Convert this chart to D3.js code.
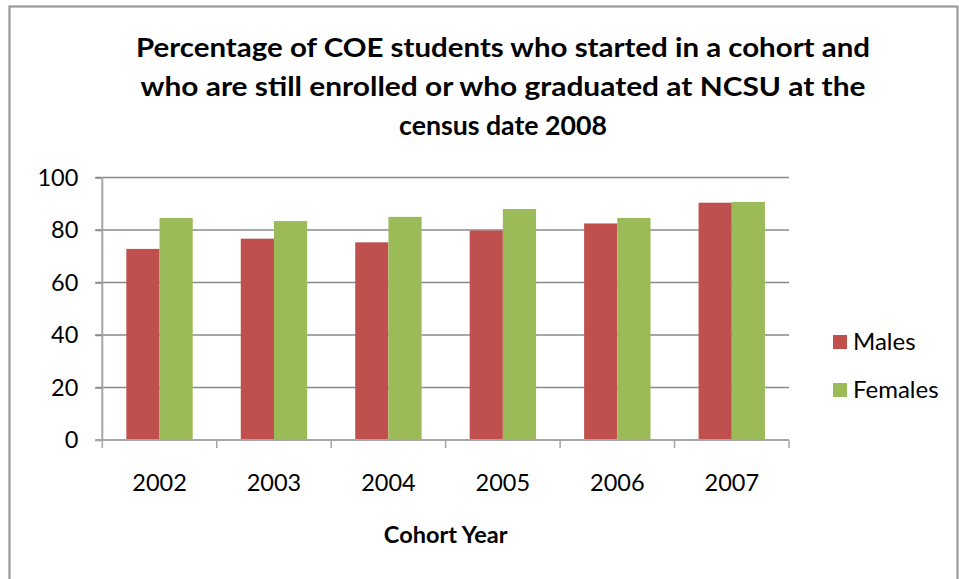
<!DOCTYPE html>
<html>
<head>
<meta charset="utf-8">
<script src="https://cdn.jsdelivr.net/npm/d3@7/dist/d3.min.js"></script>
<style>
  html, body { margin: 0; padding: 0; background: #fff; }
  svg { display: block; font-family: Lato, "Open Sans", sans-serif; }
</style>
</head>
<body>
<div id="chart"></div>
<script>
// Chart values
var years = ["2002", "2003", "2004", "2005", "2006", "2007"];
var seriesNames = ["Males", "Females"];
var males = [72.8, 76.7, 75.3, 79.8, 82.5, 90.4];
var females = [84.6, 83.4, 85.0, 88.0, 84.6, 90.7];
var yTicks = [0, 20, 40, 60, 80, 100];
var titleLines = [
  "Percentage of COE students who started in a cohort and",
  "who are still enrolled or who graduated at NCSU at the",
  "census date 2008"
];
// rendered widths of the title lines in the reference (Calibri is wider than Lato here)
var titleWidths = [734, 725, 208];
var xTitle = "Cohort Year";

var colors = {Males: "#c0504d", Females: "#9bbb59"};

var W = 959, H = 579;
var margin = {top: 177.5, right: 170, bottom: 139, left: 102.3};
var plotW = 789 - margin.left;
var plotH = 440 - margin.top;

var svg = d3.select("#chart").append("svg")
    .attr("width", W)
    .attr("height", H);

// outer frame of the chart object (bottom runs off the page)
svg.append("rect")
    .attr("x", 9.5).attr("y", 6.5)
    .attr("width", 948).attr("height", 620)
    .attr("fill", "#fff")
    .attr("stroke", "#999")
    .attr("stroke-width", 2.2);

// Title
svg.append("g")
    .attr("class", "title")
  .selectAll("text")
    .data(titleLines)
    .enter().append("text")
    .attr("x", 503)
    .attr("y", function(d, i) { return 57.3 + i * 38.7; })
    .attr("text-anchor", "middle")
    .attr("font-size", 26)
    .attr("font-weight", "bold")
    .attr("fill", "#000")
    .attr("textLength", function(d, i) { return titleWidths[i]; })
    .attr("lengthAdjust", "spacingAndGlyphs")
    .text(function(d) { return d; });

var g = svg.append("g")
    .attr("transform", "translate(" + margin.left + "," + margin.top + ")");

var padIn = 0.42;
var x = d3.scaleBand().domain(years).range([0, plotW]).paddingInner(padIn).paddingOuter(padIn / 2);
var xs = d3.scaleBand().domain(seriesNames).range([0, x.bandwidth()]);
var y = d3.scaleLinear().domain([0, 100]).range([plotH, 0]);

// Gridlines (with little tick stubs to the left of the axis)
g.append("g")
    .attr("class", "grid")
  .selectAll("line")
    .data(yTicks.filter(function(t) { return t > 0; }))
    .enter().append("line")
    .attr("x1", -7).attr("x2", plotW)
    .attr("y1", function(d) { return y(d); })
    .attr("y2", function(d) { return y(d); })
    .attr("stroke", "#8a8a8a")
    .attr("stroke-width", 1.5);

// Y axis
var yAxis = g.append("g")
    .attr("class", "axis axis-y")
    .call(d3.axisLeft(y).tickValues(yTicks).tickSize(7).tickPadding(17));
yAxis.select(".domain").remove();
yAxis.selectAll(".tick line").attr("stroke", "#8a8a8a").attr("stroke-width", 1.5);
yAxis.selectAll("text")
    .attr("font-family", "Lato, 'Open Sans', sans-serif")
    .attr("font-size", 23.5)
    .attr("fill", "#000");
g.append("line")
    .attr("x1", 0).attr("x2", 0)
    .attr("y1", 0).attr("y2", plotH)
    .attr("stroke", "#a6a6a6")
    .attr("stroke-width", 2);

// Bars
var rows = years.map(function(yr, i) {
  return {year: yr, values: [{name: "Males", value: males[i]}, {name: "Females", value: females[i]}]};
});

var group = g.selectAll(".cat")
    .data(rows)
    .enter().append("g")
    .attr("class", "cat")
    .attr("transform", function(d) { return "translate(" + x(d.year) + ",0)"; });

group.selectAll("rect")
    .data(function(d) { return d.values; })
    .enter().append("rect")
    .attr("x", function(d) { return xs(d.name); })
    .attr("y", function(d) { return y(d.value); })
    .attr("width", xs.bandwidth())
    .attr("height", function(d) { return plotH - y(d.value); })
    .attr("fill", function(d) { return colors[d.name]; });

// X axis: labels centred, ticks at category boundaries
var xAxis = g.append("g")
    .attr("class", "axis axis-x")
    .attr("transform", "translate(0," + plotH + ")")
    .call(d3.axisBottom(x).tickSize(0).tickPadding(42));
xAxis.select(".domain").remove();
xAxis.selectAll("text")
    .attr("font-family", "Lato, 'Open Sans', sans-serif")
    .attr("font-size", 23.5)
    .attr("fill", "#000")
    .attr("dy", 0)
    .attr("y", 50.7);

var bounds = years.map(function(d) { return x(d) - x.step() * padIn / 2; }).concat([plotW]);
xAxis.selectAll(".bound")
    .data(bounds)
    .enter().append("line")
    .attr("class", "bound")
    .attr("x1", function(d) { return d; })
    .attr("x2", function(d) { return d; })
    .attr("y1", 0).attr("y2", 8)
    .attr("stroke", "#a6a6a6")
    .attr("stroke-width", 1.5);
xAxis.append("line")
    .attr("x1", -7).attr("x2", plotW)
    .attr("y1", 0).attr("y2", 0)
    .attr("stroke", "#a6a6a6")
    .attr("stroke-width", 2);

// X axis title
svg.append("text")
    .attr("x", margin.left + plotW / 2)
    .attr("y", 543.3)
    .attr("text-anchor", "middle")
    .attr("font-size", 23.5)
    .attr("font-weight", "bold")
    .attr("fill", "#000")
    .text(xTitle);

// Legend
var legend = svg.append("g")
    .attr("class", "legend")
  .selectAll("g")
    .data(seriesNames)
    .enter().append("g")
    .attr("transform", function(d, i) { return "translate(833," + (335 + i * 48) + ")"; });

legend.append("rect")
    .attr("width", 14).attr("height", 14)
    .attr("fill", function(d) { return colors[d]; });

legend.append("text")
    .attr("x", 20)
    .attr("y", 7)
    .attr("dy", "0.35em")
    .attr("font-size", 24)
    .attr("fill", "#000")
    .text(function(d) { return d; });
</script>
</body>
</html>
